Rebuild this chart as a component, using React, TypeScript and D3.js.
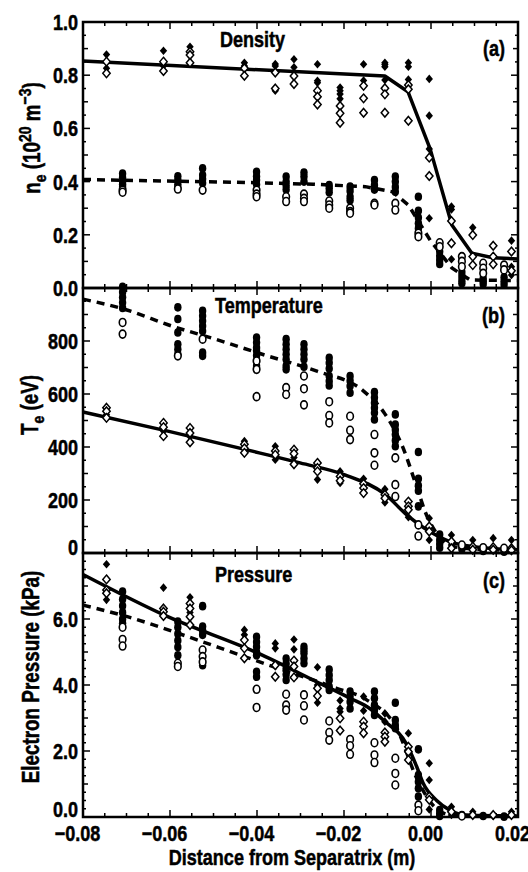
import React from "react";
import * as d3 from "d3";

type Group = [number, number[]];
type Pt = [number, number];

// ---------------- x axis ----------------
const xTicks = [-0.08, -0.06, -0.04, -0.02, 0.0, 0.02];
const xTickLabels = ["\u22120.08", "\u22120.06", "\u22120.04", "\u22120.02", "0.00", "0.02"];

// ---------------- Density (a) ----------------
const densTicks = [0, 0.2, 0.4, 0.6, 0.8, 1.0];
const densTickLabels = ["0.0", "0.2", "0.4", "0.6", "0.8", "1.0"];
const densFilledDiamonds: Group[] = [
  [-0.0746, [0.878, 0.826]],
  [-0.0615, [0.892, 0.835]],
  [-0.0554, [0.907]],
  [-0.0429, [0.847, 0.835]],
  [-0.0358, [0.842, 0.835, 0.742]],
  [-0.0315, [0.86, 0.83]],
  [-0.0261, [0.841, 0.779, 0.772]],
  [-0.0209, [0.754, 0.742, 0.729, 0.711]],
  [-0.0155, [0.841, 0.78]],
  [-0.0106, [0.847, 0.84, 0.832, 0.782]],
  [-0.0052, [0.847, 0.832, 0.784]],
  [-0.0004, [0.786, 0.648, 0.523, 0.262]],
  [0.0047, [0.306, 0.295, 0.108]],
  [0.0096, [0.227]],
  [0.0185, [0.178, 0.08, 0.049]],
];
const densOpenDiamonds: Group[] = [
  [-0.0746, [0.851, 0.807]],
  [-0.0615, [0.851, 0.816]],
  [-0.0554, [0.888, 0.876, 0.847]],
  [-0.0429, [0.826, 0.798]],
  [-0.0358, [0.81, 0.75]],
  [-0.0315, [0.797, 0.767]],
  [-0.0261, [0.742, 0.719, 0.69]],
  [-0.0209, [0.684, 0.657, 0.621]],
  [-0.0155, [0.76, 0.713, 0.659]],
  [-0.0106, [0.751, 0.728, 0.659]],
  [-0.0052, [0.763, 0.747, 0.629]],
  [-0.0004, [0.49, 0.421]],
  [0.0047, [0.252, 0.168]],
  [0.0096, [0.199, 0.118, 0.086]],
  [0.0143, [0.159, 0.118, 0.089]],
  [0.0185, [0.137, 0.065]],
];
const densFilledCircles: Group[] = [
  [-0.0709, [0.43, 0.415, 0.4, 0.39, 0.38]],
  [-0.0582, [0.42, 0.405, 0.39, 0.378]],
  [-0.0525, [0.45, 0.425, 0.41, 0.395]],
  [-0.0401, [0.437, 0.42, 0.406, 0.39]],
  [-0.0333, [0.419, 0.4, 0.385, 0.37]],
  [-0.0292, [0.434, 0.419, 0.4]],
  [-0.0234, [0.387, 0.375, 0.36]],
  [-0.0186, [0.381, 0.365, 0.343, 0.33]],
  [-0.013, [0.406, 0.387, 0.37]],
  [-0.0082, [0.419, 0.4, 0.38, 0.362]],
  [-0.0029, [0.343, 0.29, 0.265, 0.243, 0.224]],
  [0.002, [0.137, 0.12, 0.105, 0.09]],
  [0.0071, [0.06, 0.045, 0.03, 0.018]],
  [0.012, [0.036, 0.025, 0.015]],
  [0.0168, [0.04, 0.025, 0.012]],
];
const densOpenCircles: Group[] = [
  [-0.0709, [0.368, 0.36]],
  [-0.0582, [0.372]],
  [-0.0525, [0.368]],
  [-0.0401, [0.368, 0.353, 0.343]],
  [-0.0333, [0.343, 0.325]],
  [-0.0292, [0.353, 0.337, 0.325]],
  [-0.0234, [0.327, 0.312, 0.3]],
  [-0.0186, [0.3, 0.287, 0.281]],
  [-0.013, [0.318, 0.312]],
  [-0.0082, [0.318, 0.293]],
  [-0.0029, [0.206, 0.193]],
  [0.002, [0.17, 0.155]],
  [0.0071, [0.118, 0.1, 0.08]],
  [0.012, [0.093, 0.074, 0.055]],
  [0.0168, [0.086, 0.068]],
];
const densSolidFit: Pt[] = [
  [-0.08, 0.853], [-0.0106, 0.797], [-0.0053, 0.738], [-0.0002, 0.523],
  [0.0048, 0.237], [0.0094, 0.131], [0.0142, 0.114], [0.02, 0.109],
];
const densDashedFit: Pt[] = [
  [-0.08, 0.408], [-0.0403, 0.396], [-0.0271, 0.39], [-0.0151, 0.381],
  [-0.0089, 0.362], [-0.0052, 0.312], [-0.0002, 0.18], [0.0048, 0.075],
  [0.009, 0.03], [0.02, 0.028],
];

// ---------------- Temperature (b) ----------------
const tempTicks = [0, 200, 400, 600, 800];
const tempTickLabels = ["0", "200", "400", "600", "800"];
const tempFilledDiamonds: Group[] = [
  [-0.0746, [522]],
  [-0.0615, [460]],
  [-0.0554, [440]],
  [-0.0429, [422]],
  [-0.0358, [403, 352]],
  [-0.0315, [360]],
  [-0.0261, [277]],
  [-0.0209, [308, 264]],
  [-0.0155, [280]],
  [-0.0106, [241, 191]],
  [-0.0052, [135]],
  [-0.0004, [131, 49]],
  [0.0047, [68, 30]],
  [0.0096, [49]],
  [0.0143, [56]],
  [0.0185, [49]],
];
const tempOpenDiamonds: Group[] = [
  [-0.0746, [548, 535, 510]],
  [-0.0615, [491, 475, 441]],
  [-0.0554, [472, 453, 418]],
  [-0.0429, [410, 395, 378]],
  [-0.0358, [385, 371]],
  [-0.0315, [390, 375, 335]],
  [-0.0261, [340, 321, 308]],
  [-0.0209, [289, 273]],
  [-0.0155, [261, 245, 226]],
  [-0.0106, [220, 207]],
  [-0.0052, [194, 176, 163]],
  [-0.0004, [100, 81]],
  [0.0047, [43, 18]],
  [0.0096, [24, 12]],
  [0.0143, [22, 12]],
  [0.0185, [18, 10]],
];
const tempFilledCircles: Group[] = [
  [-0.0709, [1005, 985, 965, 945, 925]],
  [-0.0582, [927, 883, 832, 788, 769, 750]],
  [-0.0525, [914, 895, 876, 857, 838, 756, 744]],
  [-0.0401, [813, 794, 775, 763, 745, 706]],
  [-0.0333, [807, 788, 769, 750, 731, 706, 693]],
  [-0.0292, [788, 769, 750, 731, 703]],
  [-0.0234, [737, 718, 696, 668, 649, 632]],
  [-0.0186, [668, 650, 630, 605]],
  [-0.013, [607, 587, 567, 548, 529, 504]],
  [-0.0082, [523, 485, 465, 447, 425, 403]],
  [-0.0029, [381, 280, 255, 235, 176]],
  [0.002, [70, 50, 35, 20]],
  [0.0071, [25, 15]],
  [0.012, [15, 8]],
  [0.0168, [12, 5]],
];
const tempOpenCircles: Group[] = [
  [-0.0709, [870, 826]],
  [-0.0582, [744]],
  [-0.0525, [807]],
  [-0.0401, [725, 693, 590]],
  [-0.0333, [624, 598]],
  [-0.0292, [668, 620, 559]],
  [-0.0234, [571, 519, 491]],
  [-0.0186, [516, 463, 428]],
  [-0.013, [447, 378, 331]],
  [-0.0082, [359, 258, 213]],
  [-0.0029, [106, 64]],
  [0.0071, [30]],
  [0.012, [20]],
  [0.0168, [18]],
];
const tempSolidFit: Pt[] = [
  [-0.08, 532], [-0.0605, 460], [-0.0395, 378], [-0.0301, 340], [-0.0198, 295],
  [-0.0106, 222], [-0.0053, 140], [0.0002, 76], [0.0048, 40], [0.0097, 24], [0.02, 12],
];
const tempDashedFit: Pt[] = [
  [-0.08, 958], [-0.0705, 920], [-0.0597, 857], [-0.0496, 807], [-0.0388, 750],
  [-0.0264, 687], [-0.0155, 611], [-0.0106, 525], [-0.0065, 400], [-0.0031, 240],
  [-0.0012, 150], [0.002, 60], [0.005, 25], [0.01, 15], [0.02, 10],
];

// ---------------- Pressure (c) ----------------
const presTicks = [0, 2, 4, 6];
const presTickLabels = ["0.0", "2.0", "4.0", "6.0"];
const presFilledDiamonds: Group[] = [
  [-0.0746, [7.66, 6.58]],
  [-0.0615, [6.95]],
  [-0.0554, [6.66, 6.2]],
  [-0.0429, [5.67, 5.52]],
  [-0.0358, [5.26, 5.11]],
  [-0.0315, [5.38, 5.08]],
  [-0.0261, [4.54, 4.0, 3.46]],
  [-0.0209, [3.53, 3.29, 3.19]],
  [-0.0155, [3.65, 3.22]],
  [-0.0106, [3.14, 2.89]],
  [-0.0052, [2.54]],
  [-0.0004, [1.63, 1.12, 0.23]],
  [0.0047, [0.31, 0.06]],
  [0.0096, [0.16]],
  [0.0143, [0.03]],
  [0.0185, [0.16]],
];
const presOpenDiamonds: Group[] = [
  [-0.0746, [7.2, 6.88, 6.78]],
  [-0.0615, [6.32, 6.22, 6.09]],
  [-0.0554, [6.47, 6.32, 6.07, 5.82]],
  [-0.0429, [5.36, 5.11, 4.81]],
  [-0.0358, [4.6, 4.25]],
  [-0.0315, [4.74, 4.56, 4.23]],
  [-0.0261, [3.9, 3.67]],
  [-0.0209, [2.99, 2.62]],
  [-0.0155, [2.89, 2.74, 2.54]],
  [-0.0106, [2.56, 2.43, 2.28]],
  [-0.0052, [2.13, 1.98, 1.73]],
  [-0.0004, [0.62, 0.52]],
  [0.0047, [0.16]],
  [0.0096, [0.06]],
  [0.0143, [0.06]],
  [0.0185, [0.06]],
];
const presFilledCircles: Group[] = [
  [-0.0709, [6.83, 6.6, 6.4, 6.2, 6.0, 5.87]],
  [-0.0582, [5.92, 5.75, 5.55, 5.35, 5.15, 4.9]],
  [-0.0525, [6.39, 5.77, 5.65, 5.52, 4.6]],
  [-0.0401, [5.46, 5.3, 5.16, 5.0, 4.9, 4.4, 4.25]],
  [-0.0333, [4.8, 4.65, 4.5, 4.32, 4.15]],
  [-0.0292, [5.16, 5.06, 4.96, 4.8, 4.66]],
  [-0.0234, [4.47, 4.3, 4.15, 3.95, 3.85]],
  [-0.0186, [3.8, 3.65, 3.49, 3.29]],
  [-0.013, [3.8, 3.6, 3.39, 3.24, 3.09]],
  [-0.0082, [3.46, 2.94, 2.79, 2.69]],
  [-0.0029, [2.05, 1.27, 1.07, 0.87, 0.62]],
  [0.002, [0.21, 0.11, 0.03]],
  [0.0071, [0.06]],
  [0.012, [0.03]],
  [0.0168, [0.01]],
];
const presOpenCircles: Group[] = [
  [-0.0709, [5.75, 5.38, 5.18]],
  [-0.0582, [4.66, 4.56]],
  [-0.0525, [5.06, 4.86, 4.7]],
  [-0.0401, [3.87, 3.32]],
  [-0.0333, [3.72, 3.39, 3.24]],
  [-0.0292, [3.7, 3.37, 2.94]],
  [-0.0234, [2.91, 2.56, 2.33]],
  [-0.0186, [2.35, 2.16, 1.9]],
  [-0.013, [2.25, 1.88, 1.65]],
  [-0.0082, [1.78, 1.32, 0.97]],
  [-0.0029, [0.36, 0.19]],
  [0.0071, [0.03]],
];
const presSolidFit: Pt[] = [
  [-0.08, 7.35], [-0.0605, 6.07], [-0.04, 4.98], [-0.0263, 4.1], [-0.0186, 3.6],
  [-0.014, 3.28], [-0.011, 2.94], [-0.0056, 2.2], [-0.0033, 1.53], [-0.0018, 1.02],
  [0.0013, 0.5], [0.0044, 0.2], [0.0082, 0.05], [0.02, 0.03],
];
const presDashedFit: Pt[] = [
  [-0.08, 6.42], [-0.0698, 6.07], [-0.0558, 5.46], [-0.045, 4.96], [-0.0372, 4.6],
  [-0.0217, 3.9], [-0.0148, 3.55], [-0.0079, 2.69], [-0.0031, 1.12], [0.0008, 0.31],
  [0.0047, 0.06], [0.02, 0.03],
];

// ---------------- layout ----------------
const W = 528;
const H = 872;
const X0 = 83;
const X1 = 518;
const FONT = "'Liberation Sans', Arial, sans-serif";
const NARROW = 0.82;

const x = d3.scaleLinear().domain([-0.08, 0.02]).range([X0, X1]);

function flatten(groups: Group[]): Pt[] {
  return groups.flatMap(([gx, vs]) => vs.map((v) => [gx, v] as Pt));
}

function diamondPath(cx: number, cy: number) {
  const hw = 3.7, hh = 4.3;
  return `M${cx},${cy - hh}L${cx + hw},${cy}L${cx},${cy + hh}L${cx - hw},${cy}Z`;
}

// condensed bold text (emulates a narrow bold face)
function NText(props: {
  x: number;
  y: number;
  anchor?: "start" | "middle" | "end";
  size?: number;
  rotate?: boolean;
  dy?: string;
  children: React.ReactNode;
}) {
  const { x: tx, y: ty, anchor = "start", size = 22, rotate = false, dy, children } = props;
  return (
    <g transform={`translate(${tx},${ty})${rotate ? " rotate(-90)" : ""} scale(${NARROW},1)`}>
      <text
        x={0}
        y={0}
        dy={dy}
        textAnchor={anchor}
        fontFamily={FONT}
        fontWeight="bold"
        fontSize={size}
        fill="#000"
        stroke="#000"
        strokeWidth={0.5}
      >
        {children}
      </text>
    </g>
  );
}

type PanelProps = {
  top: number;
  bottom: number;
  domain: [number, number];
  ticks: number[];
  tickLabels: string[];
  medStep: number;
  minStep: number;
  bottomLabelShift: number;
  filledDiamonds: Group[];
  openDiamonds: Group[];
  filledCircles: Group[];
  openCircles: Group[];
  solid: Pt[];
  dashed: Pt[];
  curve: d3.CurveFactory;
  title: string;
  titleX: number;
  titleY: number;
  tag: string;
  tagY: number;
};

function Panel(p: PanelProps) {
  const y = d3.scaleLinear().domain(p.domain).range([p.bottom, p.top]);
  const line = d3
    .line<Pt>()
    .x((d) => x(d[0]))
    .y((d) => y(d[1]))
    .curve(p.curve);

  const xMinor = d3.range(0, 21).map((i) => -0.08 + i * 0.005);
  const [d0, d1] = p.domain;
  const nMin = Math.round((d1 - d0) / p.minStep);
  const yMinor = d3.range(0, nMin + 1).map((i) => d0 + i * p.minStep);

  const isMul = (v: number, step: number) => Math.abs(v / step - Math.round(v / step)) < 1e-6;

  const tickEls: React.ReactNode[] = [];
  xMinor.forEach((v, i) => {
    const major = isMul(v, 0.02);
    const len = major ? 7 : 4;
    const px = x(v);
    tickEls.push(<line key={`xb${i}`} x1={px} x2={px} y1={p.bottom} y2={p.bottom - len} />);
    tickEls.push(<line key={`xt${i}`} x1={px} x2={px} y1={p.top} y2={p.top + len} />);
  });
  yMinor.forEach((v, i) => {
    const major = p.ticks.some((t) => Math.abs(t - v) < 1e-9) || isMul(v - d0, p.medStep * 2);
    const med = !major && isMul(v - d0, p.medStep);
    const len = major ? 7 : med ? 5 : 3;
    const py = y(v);
    tickEls.push(<line key={`yl${i}`} x1={X0} x2={X0 + len} y1={py} y2={py} />);
    tickEls.push(<line key={`yr${i}`} x1={X1} x2={X1 - len} y1={py} y2={py} />);
  });

  return (
    <g>
      <g stroke="#000" strokeWidth={1.5}>{tickEls}</g>
      <rect x={X0} y={p.top} width={X1 - X0} height={p.bottom - p.top} fill="none" stroke="#000" strokeWidth={2.5} />
      {p.ticks.map((t, i) => (
        <NText key={`yl${i}`} x={78} y={y(t) + (i === 0 ? p.bottomLabelShift : 0)} dy="0.36em" anchor="end">
          {p.tickLabels[i]}
        </NText>
      ))}
      <path d={line(p.solid) || ""} fill="none" stroke="#000" strokeWidth={3.5} strokeLinejoin="round" />
      <path d={line(p.dashed) || ""} fill="none" stroke="#000" strokeWidth={3.5} strokeDasharray="8,6" />
      {flatten(p.filledCircles).map((d, i) => (
        <ellipse key={`fc${i}`} cx={x(d[0])} cy={y(d[1])} rx={3.7} ry={4.3} fill="#000" />
      ))}
      {flatten(p.filledDiamonds).map((d, i) => (
        <path key={`fd${i}`} d={diamondPath(x(d[0]), y(d[1]))} fill="#000" />
      ))}
      {flatten(p.openCircles).map((d, i) => (
        <ellipse key={`oc${i}`} cx={x(d[0])} cy={y(d[1])} rx={3.3} ry={4} fill="#fff" stroke="#000" strokeWidth={1.6} />
      ))}
      {flatten(p.openDiamonds).map((d, i) => (
        <path key={`od${i}`} d={diamondPath(x(d[0]), y(d[1]))} fill="#fff" stroke="#000" strokeWidth={1.5} />
      ))}
      <NText x={p.titleX} y={p.titleY}>{p.title}</NText>
      <NText x={505} y={p.tagY} anchor="end">{p.tag}</NText>
    </g>
  );
}

export default function App() {
  return (
    <svg width={W} height={H} viewBox={`0 0 ${W} ${H}`} style={{ display: "block", position: "absolute", left: 0, top: 0, background: "#fff" }}>
      <rect x={0} y={0} width={W} height={H} fill="#fff" />
      <Panel
        top={22}
        bottom={288}
        domain={[0, 1]}
        ticks={densTicks}
        tickLabels={densTickLabels}
        medStep={0.1}
        minStep={0.05}
        bottomLabelShift={0}
        filledDiamonds={densFilledDiamonds}
        openDiamonds={densOpenDiamonds}
        filledCircles={densFilledCircles}
        openCircles={densOpenCircles}
        solid={densSolidFit}
        dashed={densDashedFit}
        curve={d3.curveLinear}
        title="Density"
        titleX={220}
        titleY={47}
        tag="(a)"
        tagY={56}
      />
      <Panel
        top={288}
        bottom={553}
        domain={[0, 1000]}
        ticks={tempTicks}
        tickLabels={tempTickLabels}
        medStep={100}
        minStep={50}
        bottomLabelShift={-6}
        filledDiamonds={tempFilledDiamonds}
        openDiamonds={tempOpenDiamonds}
        filledCircles={tempFilledCircles}
        openCircles={tempOpenCircles}
        solid={tempSolidFit}
        dashed={tempDashedFit}
        curve={d3.curveMonotoneX}
        title="Temperature"
        titleX={215}
        titleY={313}
        tag="(b)"
        tagY={323}
      />
      <Panel
        top={553}
        bottom={817}
        domain={[0, 8]}
        ticks={presTicks}
        tickLabels={presTickLabels}
        medStep={1}
        minStep={0.25}
        bottomLabelShift={-8}
        filledDiamonds={presFilledDiamonds}
        openDiamonds={presOpenDiamonds}
        filledCircles={presFilledCircles}
        openCircles={presOpenCircles}
        solid={presSolidFit}
        dashed={presDashedFit}
        curve={d3.curveMonotoneX}
        title="Pressure"
        titleX={215}
        titleY={582}
        tag="(c)"
        tagY={588}
      />
      {xTicks.map((t, i) => (
        <NText key={`xl${i}`} x={x(t) - 5.5} y={841} anchor="middle">
          {xTickLabels[i]}
        </NText>
      ))}
      <NText x={292} y={865} anchor="middle">Distance from Separatrix (m)</NText>
      <NText x={40} y={138} anchor="middle" size={23} rotate>
        <tspan>n</tspan>
        <tspan dy={6} fontSize={17}>e</tspan>
        <tspan dy={-6}> (10</tspan>
        <tspan dy={-9} fontSize={17}>20</tspan>
        <tspan dy={9}> m</tspan>
        <tspan dy={-9} fontSize={17}>{"\u22123"}</tspan>
        <tspan dy={9}>)</tspan>
      </NText>
      <NText x={38} y={405} anchor="middle" size={23} rotate>
        <tspan>T</tspan>
        <tspan dy={6} fontSize={17}>e</tspan>
        <tspan dy={-6}> (eV)</tspan>
      </NText>
      <NText x={39} y={677} anchor="middle" size={23} rotate>
        Electron Pressure (kPa)
      </NText>
    </svg>
  );
}
